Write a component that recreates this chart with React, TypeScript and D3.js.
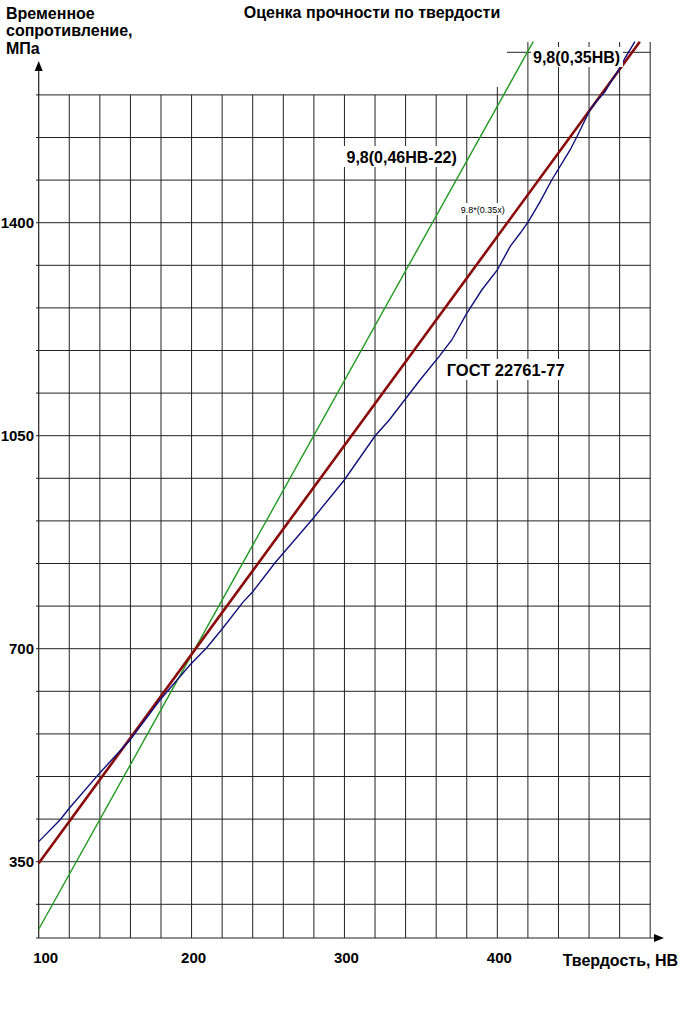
import React from "react";
import * as d3 from "d3";

// ---- Data ----
const hbTicks = [100, 200, 300, 400];
const mpaTicks = [350, 700, 1050, 1400];

// ГОСТ 22761-77 (blue, measured curve)
const gostHB = [100, 113.9, 120, 140.1, 159.7, 179.3, 198.9, 209.9, 219.7, 233.8, 240, 254.6, 279.6, 299.9, 320, 329.3, 349.4, 362.5, 370.2, 380, 389.8, 400, 408.3, 414.9, 420.3, 428, 435.6, 447.6, 452.3, 460.6, 464.6, 470.4, 473.7, 480.7, 483.5, 490];
const gostMPa = [383, 418.6, 437.8, 496.3, 550, 615.7, 673.2, 701.7, 731.5, 777, 793.7, 841.3, 914.3, 977.2, 1049.5, 1075.8, 1141.5, 1182, 1207.3, 1251.1, 1289.4, 1322.3, 1360.6, 1382.6, 1401.6, 1434.5, 1470.2, 1519.5, 1542.5, 1585.2, 1598.8, 1615.2, 1629.5, 1656.3, 1670.6, 1697.4];

// 9,8(0,35HB) (dark red)
const linHB = [100, 493.2];
const linMPa = [347.4, 1697.4];

// 9,8(0,46HB-22) (green)
const empHB = [100, 423.5];
const empMPa = [239, 1697.4];

const FONT = "'Liberation Sans', Arial, Helvetica, sans-serif";

export default function App() {
  const W = 682;
  const H = 1024;
  const x = d3.scaleLinear().domain([100, 500]).range([38.7, 650.2]);
  const y = d3.scaleLinear().domain([1400, 350]).range([222.7, 861.7]);
  const axisY = 938;
  const gridTop = y(1610);

  const vGrid = d3.range(120, 501, 20);
  const hGrid = d3.range(280, 1611, 70);

  const line = d3
    .line<[number, number]>()
    .x((d) => x(d[0]))
    .y((d) => y(d[1]));

  const gost = line(gostHB.map((h, i) => [h, gostMPa[i]] as [number, number]));
  const lin = line(linHB.map((h, i) => [h, linMPa[i]] as [number, number]));
  const emp = line(empHB.map((h, i) => [h, empMPa[i]] as [number, number]));

  const gridColor = "#222";

  const vTop = (hb: number) => (hb > 400 ? 42 : hb === 400 ? 87 : gridTop);

  return (
    <svg
      width={W}
      height={H}
      style={{ position: "absolute", left: 0, top: 0, background: "#fff" }}
      fontFamily={FONT}
    >
      <rect x={0} y={0} width={W} height={H} fill="#fff" />
      {/* grid */}
      {vGrid.map((h) => (
        <line key={"v" + h} x1={x(h)} x2={x(h)} y1={vTop(h)} y2={axisY} stroke={gridColor} strokeWidth={1} />
      ))}
      {hGrid.map((m) => (
        <line key={"h" + m} x1={36} x2={x(500)} y1={y(m)} y2={y(m)} stroke={gridColor} strokeWidth={1} />
      ))}
      <line x1={507} x2={x(500)} y1={y(1680)} y2={y(1680)} stroke={gridColor} strokeWidth={1} />

      {/* axes */}
      <line x1={x(100)} x2={x(100)} y1={axisY} y2={68} stroke="#222" strokeWidth={1.2} />
      <polygon points={`${x(100)},61 ${x(100) - 4},71 ${x(100) + 4},71`} fill="#000" />
      <line x1={36} x2={656} y1={axisY} y2={axisY} stroke="#222" strokeWidth={1.2} />
      <polygon points={`664,${axisY} 654,${axisY - 4} 654,${axisY + 4}`} fill="#000" />

      {/* series */}
      <path d={emp ?? ""} fill="none" stroke="#229a22" strokeWidth={1.4} />
      <path d={lin ?? ""} fill="none" stroke="#8b0a0a" strokeWidth={2.6} />
      <path d={gost ?? ""} fill="none" stroke="#10107a" strokeWidth={1.4} />

      {/* tick labels */}
      {mpaTicks.map((m) => (
        <text key={"yt" + m} x={34} y={y(m) + 5.5} textAnchor="end" fontSize={15} fontWeight="bold" fill="#000">
          {m}
        </text>
      ))}
      {hbTicks.map((h, i) => (
        <text key={"xt" + h} x={x(h) + (i === 0 ? 7 : 2)} y={963} textAnchor="middle" fontSize={15} fontWeight="bold" fill="#000">
          {h}
        </text>
      ))}

      {/* axis titles */}
      <text x={6} fontSize={16} fontWeight="bold" fill="#000">
        <tspan x={6} y={18.5}>Временное</tspan>
        <tspan x={6} y={36}>сопротивление,</tspan>
        <tspan x={6} y={53.5}>МПа</tspan>
      </text>
      <text x={678} y={966} textAnchor="end" fontSize={16} fontWeight="bold" fill="#000">
        Твердость, НВ
      </text>
      <text x={372} y={18} textAnchor="middle" fontSize={16} fontWeight="bold" fill="#000">
        Оценка прочности по твердости
      </text>

      {/* series labels */}
      <rect x={343} y={146} width={119} height={21} fill="#fff" />
      <text x={346.5} y={163} fontSize={16} fontWeight="bold" fill="#000">
        9,8(0,46HB-22)
      </text>
      <rect x={531} y={47} width={92} height={20} fill="#fff" />
      <text x={533} y={63} fontSize={16} fontWeight="bold" fill="#000">
        9,8(0,35HB)
      </text>
      <rect x={459} y={203} width={47} height={12} fill="#fff" />
      <text x={460.7} y={213} fontSize={9} fill="#000">
        9.8*(0.35x)
      </text>
      <rect x={444} y={359} width={125} height={21} fill="#fff" />
      <text x={446.7} y={376} fontSize={16.5} fontWeight="bold" fill="#000">
        ГОСТ 22761-77
      </text>
    </svg>
  );
}
